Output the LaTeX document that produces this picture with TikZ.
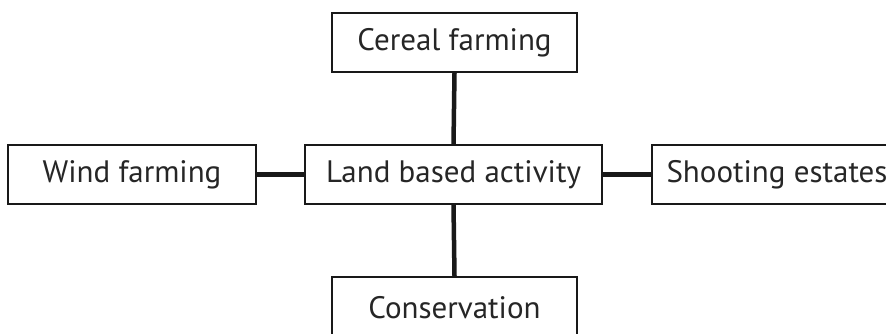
\documentclass[tikz,border=0pt]{standalone}
\usepackage{fontspec}
\setmainfont{PT Sans}
\begin{document}
\begin{tikzpicture}[x=1pt,y=-1pt,
  boxnode/.style={draw=black!90,line width=2pt,fill=white,inner sep=0pt,font=\fontsize{31}{35}\selectfont,text=black!85},
  link/.style={line width=4.5pt,draw=black!90}]
\useasboundingbox (0,0) rectangle (886,333);
\node[boxnode,minimum width=245pt,minimum height=59pt] (cereal) at (454.5,42.5) {Cereal farming};
\node[boxnode,minimum width=297pt,minimum height=59pt] (land) at (453.5,174.5) {Land based activity};
\node[boxnode,minimum width=248pt,minimum height=59pt] (wind) at (132,174.5) {Wind farming};
\node[boxnode,minimum width=250pt,minimum height=59pt] (shoot) at (777,174.5) {Shooting estates};
\node[boxnode,minimum width=245pt,minimum height=62pt] (cons) at (454.5,308) {Conservation};
\draw[link] (cereal.south) -- (land.north);
\draw[link] (land.south) -- (cons.north);
\draw[link] (wind.east) -- (land.west);
\draw[link] (land.east) -- (shoot.west);
\end{tikzpicture}
\end{document}
